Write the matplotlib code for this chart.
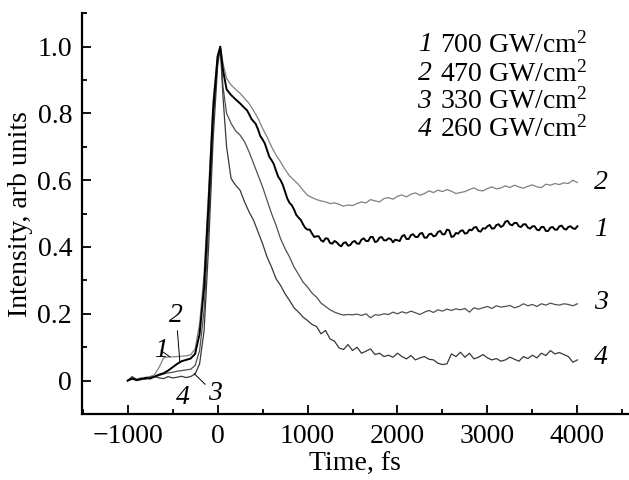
import numpy as np
import matplotlib
matplotlib.use("Agg")
import matplotlib.pyplot as plt

plt.rcParams['font.family'] = ['Liberation Serif', 'DejaVu Serif']
plt.rcParams['mathtext.fontset'] = 'custom'
plt.rcParams['mathtext.rm'] = 'Liberation Serif'
plt.rcParams['mathtext.it'] = 'Liberation Serif:italic'

# time grid, fs
t_head = [-1000, -950, -900, -850, -800, -750, -700, -650, -600, -550, -500,
          -450, -400, -350, -300, -250, -200, -150, -100, -50, 0, 30, 60,
          100, 150, 200, 250, 300, 350, 400, 450, 500, 550, 600, 650, 700,
          750, 800, 850, 900, 950]
t_tail = list(range(1000, 4001, 50))
time = np.array(t_head + t_tail)
# extra in-between samples of the noisy curve 1
time_mid = np.array(list(range(325, 976, 50)) + list(range(1025, 3976, 50)))

# 1 - 700 GW/cm2
int_700 = [0.0, 0.006, 0.002, 0.004, 0.008, 0.006, 0.012, 0.018, 0.022, 0.03, 0.04,
           0.05, 0.058, 0.062, 0.066, 0.08, 0.14, 0.28, 0.53, 0.81, 0.97, 1.0, 0.93,
           0.872, 0.855, 0.842, 0.83, 0.816, 0.798, 0.776, 0.752, 0.722, 0.69, 0.66, 0.628, 0.60,
           0.565, 0.532, 0.512, 0.488, 0.468,
           0.452, 0.44, 0.432, 0.42, 0.426, 0.412, 0.418, 0.406, 0.412, 0.404, 0.415,
           0.41, 0.422, 0.418, 0.43, 0.415, 0.428, 0.42, 0.426, 0.414, 0.42, 0.432,
           0.424, 0.436, 0.43, 0.44, 0.428, 0.438, 0.432, 0.445, 0.438, 0.452, 0.43,
           0.442, 0.448, 0.44, 0.452, 0.458, 0.448, 0.456, 0.462, 0.455, 0.466, 0.46,
           0.476, 0.468, 0.472, 0.462, 0.468, 0.458, 0.462, 0.452, 0.46, 0.448, 0.458,
           0.452, 0.462, 0.455, 0.46, 0.456, 0.462]
int_700_mid = [0.81, 0.784, 0.768, 0.732, 0.71, 0.67, 0.648, 0.61, 0.586, 0.545,
               0.525, 0.496, 0.481, 0.457,
               0.452, 0.43, 0.432, 0.416, 0.425, 0.41, 0.414, 0.402, 0.414, 0.406,
               0.418, 0.41, 0.426, 0.418, 0.43, 0.417, 0.43, 0.42, 0.424, 0.422,
               0.418, 0.436, 0.424, 0.438, 0.43, 0.442, 0.428, 0.44, 0.434, 0.448,
               0.438, 0.45, 0.432, 0.44, 0.45, 0.442, 0.45, 0.46, 0.446, 0.455,
               0.466, 0.456, 0.468, 0.464, 0.478, 0.465, 0.472, 0.46, 0.468, 0.455,
               0.462, 0.45, 0.46, 0.448, 0.46, 0.452, 0.464, 0.452, 0.462, 0.454]

# 2 - 470 GW/cm2
int_470 = [0.0, 0.008, 0.003, 0.006, 0.01, 0.012, 0.018, 0.04, 0.068, 0.071, 0.071,
           0.072, 0.073, 0.074, 0.077, 0.095, 0.17, 0.32, 0.57, 0.84, 0.975, 1.0, 0.95,
           0.905, 0.885, 0.872, 0.86, 0.845, 0.83, 0.808, 0.785, 0.755, 0.73, 0.70, 0.675, 0.655,
           0.632, 0.613, 0.60, 0.587, 0.57,
           0.555, 0.548, 0.542, 0.538, 0.535, 0.53, 0.532, 0.528, 0.522, 0.526, 0.524,
           0.53, 0.535, 0.532, 0.542, 0.538, 0.535, 0.545, 0.548, 0.543, 0.552, 0.556,
           0.55, 0.558, 0.562, 0.555, 0.56, 0.568, 0.563, 0.57, 0.566, 0.572, 0.567,
           0.56, 0.563, 0.566, 0.572, 0.577, 0.57, 0.568, 0.575, 0.58, 0.574, 0.577,
           0.583, 0.578, 0.585, 0.58, 0.576, 0.582, 0.586, 0.58, 0.578, 0.588, 0.585,
           0.59, 0.587, 0.592, 0.59, 0.60, 0.593]

# 3 - 330 GW/cm2
int_330 = [0.0, 0.005, 0.0, 0.004, 0.006, 0.01, 0.012, 0.015, 0.02, 0.023, 0.025,
           0.028, 0.03, 0.032, 0.034, 0.045, 0.09, 0.21, 0.46, 0.77, 0.955, 1.0, 0.88,
           0.80, 0.77, 0.748, 0.735, 0.715, 0.685, 0.65, 0.615, 0.58, 0.54, 0.50, 0.465, 0.425,
           0.395, 0.37, 0.34, 0.318, 0.295,
           0.28, 0.262, 0.25, 0.232, 0.222, 0.212, 0.205, 0.2, 0.196, 0.198, 0.197,
           0.199, 0.195, 0.2, 0.188, 0.197, 0.196, 0.2, 0.198, 0.205, 0.2, 0.206,
           0.202, 0.208, 0.203, 0.198, 0.205, 0.21, 0.204, 0.212, 0.208, 0.214, 0.21,
           0.215, 0.212, 0.216, 0.205, 0.218, 0.214, 0.218, 0.222, 0.216, 0.224, 0.22,
           0.222, 0.225, 0.218, 0.222, 0.23, 0.224, 0.228, 0.222, 0.23, 0.226, 0.232,
           0.228, 0.226, 0.23, 0.228, 0.224, 0.23]

# 4 - 260 GW/cm2
int_260 = [0.0, 0.012, 0.003, 0.008, 0.004, 0.01, 0.012, 0.008, 0.006, 0.012, 0.008,
           0.01, 0.013, 0.009, 0.012, 0.02, 0.05, 0.15, 0.40, 0.72, 0.94, 1.0, 0.85,
           0.70, 0.605, 0.585, 0.57, 0.535, 0.505, 0.48, 0.445, 0.41, 0.37, 0.34, 0.305, 0.285,
           0.26, 0.24, 0.218, 0.205, 0.19,
           0.18, 0.168, 0.162, 0.14, 0.15, 0.125, 0.118, 0.098, 0.093, 0.108, 0.09,
           0.1, 0.082, 0.088, 0.095, 0.078, 0.082, 0.072, 0.076, 0.07, 0.082, 0.072,
           0.065, 0.075, 0.062, 0.068, 0.072, 0.064, 0.062, 0.052, 0.048, 0.05, 0.08,
           0.072, 0.085, 0.07, 0.082, 0.065, 0.07, 0.078, 0.068, 0.062, 0.066, 0.058,
           0.062, 0.07, 0.064, 0.058, 0.072, 0.066, 0.076, 0.068, 0.082, 0.075, 0.09,
           0.08, 0.084, 0.078, 0.072, 0.055, 0.062]

numbers = ['1', '2', '3', '4']
powers = ['700', '470', '330', '260']

FS = 20


def main():
    fig = plt.figure(figsize=(6.29, 4.80), dpi=100)
    ax = fig.add_axes([0.130, 0.1375, 0.868, 0.835])

    # merge the in-between samples of curve 1
    t1 = np.concatenate([time, time_mid])
    v1 = np.concatenate([int_700, int_700_mid])
    order = np.argsort(t1)

    ax.plot(time, int_470, color='#808080', lw=0.9)
    ax.plot(time, int_330, color='#505050', lw=0.9)
    ax.plot(time, int_260, color='#383838', lw=0.9)
    ax.plot(t1[order], v1[order], color='black', lw=1.4)

    ax.set_xlim(-1510, 4560)
    ax.set_ylim(-0.1, 1.1)
    ax.set_xticks([-1000, 0, 1000, 2000, 3000, 4000])
    ax.set_xticklabels(['\u22121000', '0', '1000', '2000', '3000', '4000'])
    ax.set_xticks(np.arange(-1500, 4600, 500), minor=True)
    ax.set_yticks([0, 0.2, 0.4, 0.6, 0.8, 1.0])
    ax.set_yticklabels(['0', '0.2', '0.4', '0.6', '0.8', '1.0'])
    ax.set_yticks(np.arange(-0.1, 1.11, 0.1), minor=True)
    ax.tick_params(which='both', direction='in', width=1.3, labelsize=FS,
                   top=False, right=False)
    ax.tick_params(which='major', length=6.5, pad=7)
    ax.tick_params(which='minor', length=3.8)
    for side in ['top', 'right']:
        ax.spines[side].set_visible(False)
    for side in ['left', 'bottom']:
        ax.spines[side].set_linewidth(1.6)

    ax.set_xlabel('Time, fs', fontsize=FS, labelpad=2)
    ax.set_ylabel('Intensity, arb units', fontsize=FS, labelpad=3)

    # legend as text
    leg_y = [1.005, 0.918, 0.837, 0.753]
    for n, p, y in zip(numbers, powers, leg_y):
        ax.text(2300, y, n, fontsize=FS, style='italic', ha='center', va='center')
        ax.text(2470, y, p + r' GW/cm$^2$', fontsize=FS, ha='left', va='center')

    # curve labels at the right
    right_y = [0.453, 0.594, 0.234, 0.069]
    for n, y in zip(numbers, right_y):
        ax.text(4260, y, n, fontsize=FS, style='italic', ha='center', va='center')

    # labels with leader lines near the start
    arrow = dict(arrowstyle='-', color='black', lw=0.7, shrinkA=0, shrinkB=0)
    ax.annotate('1', xy=(-530, 0.071), xytext=(-630, 0.09), fontsize=FS,
                style='italic', ha='center', va='center', arrowprops=arrow)
    ax.annotate('2', xy=(-420, 0.057), xytext=(-460, 0.195), fontsize=FS,
                style='italic', ha='center', va='center', arrowprops=arrow)
    ax.annotate('3', xy=(-260, 0.021), xytext=(-30, -0.04), fontsize=FS,
                style='italic', ha='center', va='center', arrowprops=arrow)
    ax.text(-390, -0.052, '4', fontsize=FS, style='italic', ha='center', va='center')

    fig.savefig('out.png', dpi=100)


if __name__ == "__main__":
    main()
